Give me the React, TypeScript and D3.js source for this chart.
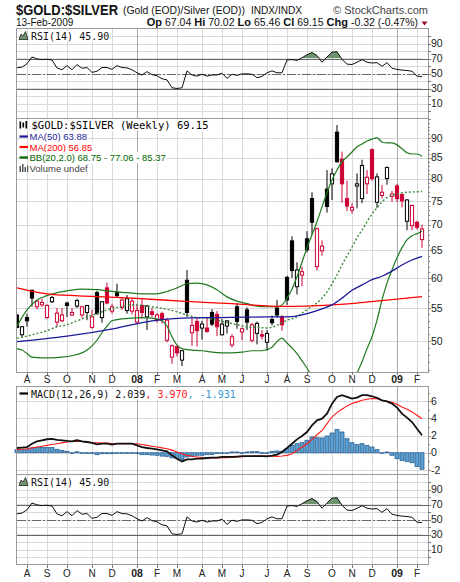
import { useLayoutEffect, useRef, useState } from 'react';
import * as d3 from 'd3';

// weekly bars, the first one is the week ending Fri 27-Jul-2007
const firstWeekEnd = new Date(Date.UTC(2007, 6, 27));
const monthLabels = ['A', 'S', 'O', 'N', 'D', '08', 'F', 'M', 'A', 'M', 'J', 'J', 'A', 'S', 'O', 'N', 'D', '09', 'F'];

const open = [
  53.9, 50.9, 53.5, 57.9, 55.2, 55.5, 53.5, 56.0, 52.8, 53.0,
  55.8, 53.9, 55.3, 53.9, 54.3, 52.0, 57.5, 53.5, 58.3, 54.5,
  57.5, 55.1, 54.6, 54.5, 52.8, 55.4, 53.6, 54.4, 53.2, 54.1,
  50.1, 47.7, 49.2, 47.3, 59.6, 51.2, 52.9, 51.9, 51.9, 54.3,
  54.0, 50.9, 52.2, 49.4, 55.2, 51.3, 54.7, 50.1, 51.1, 50.9,
  49.8, 53.2, 55.0, 53.6, 60.1, 66.8, 58.5, 60.5, 67.2, 75.5,
  62.0, 64.9, 77.6, 78.8, 91.5, 84.6, 75.5, 73.0, 78.3, 75.5,
  78.8, 87.0, 74.7, 76.2, 80.0, 76.0, 78.3, 76.4, 70.7, 69.8,
  70.5, 67.04,
];
const high = [
  54.0, 52.2, 54.1, 58.0, 56.3, 56.5, 55.6, 57.0, 55.0, 55.0,
  56.0, 55.0, 56.5, 55.3, 55.5, 54.7, 57.8, 56.1, 59.2, 55.7,
  59.0, 56.8, 57.1, 56.6, 55.7, 56.4, 55.5, 55.0, 54.2, 54.4,
  53.4, 49.5, 49.3, 48.7, 61.4, 53.5, 53.5, 53.0, 53.4, 54.8,
  54.5, 53.3, 53.1, 51.0, 55.8, 52.0, 55.1, 52.7, 52.9, 51.6,
  51.6, 53.8, 56.3, 53.9, 60.4, 67.7, 62.8, 62.0, 68.7, 76.9,
  69.4, 66.9, 82.0, 82.4, 93.4, 86.5, 79.5, 74.5, 81.2, 84.5,
  82.0, 87.3, 81.2, 78.5, 82.9, 77.2, 78.8, 76.6, 75.4, 74.2,
  70.8, 70.02,
];
const low = [
  51.9, 50.5, 52.1, 55.2, 54.8, 55.2, 53.3, 55.8, 52.1, 52.8,
  53.6, 53.7, 55.0, 53.5, 53.1, 51.8, 54.0, 52.7, 55.6, 54.1,
  56.7, 54.7, 54.1, 54.0, 52.6, 53.3, 51.6, 53.6, 52.7, 52.6,
  49.8, 46.8, 47.8, 46.5, 53.6, 49.3, 49.2, 50.2, 51.2, 52.2,
  50.7, 50.8, 51.1, 49.1, 51.8, 50.1, 51.6, 49.8, 49.5, 50.2,
  48.6, 52.3, 53.5, 51.5, 55.5, 60.0, 57.2, 58.6, 64.6, 68.0,
  61.3, 64.0, 72.5, 75.2, 83.8, 74.6, 72.8, 72.3, 73.4, 74.5,
  76.5, 79.5, 73.5, 75.5, 78.6, 74.8, 74.8, 73.6, 68.9, 68.9,
  69.0, 65.46,
];
const close = [
  52.0, 52.1, 53.0, 56.6, 56.1, 55.9, 55.4, 56.7, 54.2, 53.9,
  55.4, 54.3, 56.2, 55.2, 55.4, 53.6, 54.1, 56.0, 55.8, 55.2,
  57.0, 56.3, 56.5, 56.1, 54.6, 54.3, 55.3, 54.0, 53.9, 53.2,
  53.1, 49.3, 48.3, 48.6, 54.3, 52.3, 51.5, 52.5, 51.4, 52.5,
  52.1, 52.5, 53.0, 50.6, 52.9, 51.8, 52.8, 52.4, 52.6, 50.7,
  51.1, 52.7, 53.9, 52.4, 56.3, 61.3, 61.4, 61.1, 65.1, 70.5,
  69.2, 65.8, 73.8, 81.1, 84.0, 78.8, 73.9, 73.6, 78.8, 83.1,
  80.3, 80.0, 80.4, 76.9, 82.6, 76.5, 75.5, 75.0, 75.2, 74.0,
  69.47, 69.15,
];

// overlays, as [bar, value] pairs
const ma50: [number, number][] = [
  [0, 49.9], [10, 50.7], [20, 51.9], [27, 53.0], [33, 53.4], [40, 53.5], [50, 53.6], [55, 53.65],
  [58, 54.1], [61, 54.85], [63, 55.5], [65, 56.6], [67, 57.9], [69, 58.8], [71, 59.7], [73, 60.3],
  [75, 61.2], [77, 62.3], [79, 63.2], [81, 63.88],
];
const ma200: [number, number][] = [
  [0, 58.3], [7, 57.2], [15, 56.9], [23, 56.6], [33, 56.1], [43, 55.7], [53, 55.25], [58, 55.3],
  [63, 55.5], [68, 55.8], [73, 56.2], [81, 56.85],
];
const bbUpper: [number, number][] = [
  [0, 52.2], [2, 54.7], [4, 56.3], [6, 57.0], [8, 57.5], [10, 57.8], [13, 58.1], [16, 58.0], [19, 57.7],
  [22, 57.5], [25, 57.3], [28, 57.3], [30, 57.7], [32, 58.3], [34, 59.0], [36, 59.1], [38, 58.8], [40, 58.0],
  [42, 56.8], [44, 56.1], [46, 55.7], [48, 55.3], [50, 55.2], [52, 55.2], [53, 55.5], [54, 56.6], [55, 58.1],
  [56, 60.2], [57, 62.8], [58, 65.5], [59, 68.0], [60, 70.6], [61, 73.7], [62, 76.8], [63, 79.7], [64, 82.0],
  [65, 84.0], [66, 85.2], [67, 86.4], [68, 87.7], [69, 88.4], [70, 89.2], [71, 89.7], [72, 90.0], [73, 88.95],
  [74, 88.7], [75, 88.7], [76, 88.2], [77, 87.2], [78, 86.2], [79, 85.9], [80, 85.9], [81, 85.37],
];
const bbMiddle: [number, number][] = [
  [0, 50.4], [2, 50.7], [4, 51.1], [6, 51.5], [8, 52.1], [10, 52.4], [12, 53.0], [14, 53.6], [16, 54.1],
  [18, 54.7], [20, 55.1], [22, 55.4], [24, 55.5], [26, 55.3], [28, 55.1], [30, 54.8], [32, 54.4], [34, 53.9],
  [36, 53.5], [38, 53.4], [40, 53.1], [42, 52.75], [44, 52.4], [46, 52.1], [48, 52.0], [50, 51.9], [52, 52.3],
  [53, 52.7], [54, 53.1], [55, 53.3], [56, 53.6], [57, 54.2], [58, 54.7], [59, 55.3], [60, 55.8], [61, 56.6],
  [62, 57.6], [63, 59.0], [64, 60.5], [65, 62.3], [66, 64.0], [67, 65.6], [68, 67.4], [69, 68.9], [70, 70.6],
  [71, 72.2], [72, 73.5], [73, 74.8], [74, 75.7], [75, 76.2], [76, 76.5], [78, 76.9], [80, 77.0], [81, 77.06],
];
const bbLower: [number, number][] = [
  [0, 48.9], [1, 48.7], [2, 48.2], [3, 47.7], [5, 47.6], [7, 47.6], [9, 47.7], [11, 47.9], [13, 48.3],
  [14, 48.7], [15, 49.3], [16, 50.1], [17, 51.2], [18, 52.2], [19, 53.0], [21, 53.3], [23, 53.4], [25, 53.5],
  [27, 53.4], [29, 53.0], [30, 52.2], [31, 50.6], [32, 49.4], [33, 48.9], [35, 48.7], [37, 48.6], [39, 48.4],
  [41, 48.3], [43, 48.3], [45, 48.4], [47, 48.6], [49, 48.6], [51, 49.1], [52, 49.9], [53, 50.4], [54, 49.7],
  [55, 49.0], [56, 48.2], [57, 47.2], [58, 46.2], [59, 45.1], [60, 44.0], [61, 42.6], [62, 41.4], [63, 40.5],
  [64, 40.0], [65, 40.2], [66, 41.2], [67, 43.2], [68, 45.5], [69, 47.05], [70, 48.9], [71, 50.6], [72, 53.1],
  [73, 56.3], [74, 59.1], [75, 61.4], [76, 63.6], [77, 65.5], [78, 67.0], [79, 67.8], [80, 68.2], [81, 68.75],
];

const rsi = [
  57.6, 58.5, 63, 72, 69.5, 68.5, 69, 68, 57.5, 55,
  60.5, 55, 62, 57, 58, 51.5, 53, 58, 58, 55.5,
  60.5, 58, 57.5, 55, 51, 48, 52.5, 48.5, 47, 43,
  41.5, 31, 30, 31, 53.5, 48, 46.5, 49, 46.5, 48,
  48, 50.5, 43.5, 49, 47.5, 49.5, 49.5, 49, 44.5, 46,
  51, 53.5, 51, 51, 68, 68.5, 67.5, 71, 75, 78,
  74, 65, 72, 78.5, 79, 69, 62.5, 62, 65, 68.5,
  65, 64, 64.5, 59.5, 64.5, 57, 55.5, 54.5, 54, 53,
  46.5, 45.9,
];

const macd = [
  0.55, 0.6, 0.66, 1.05, 1.33, 1.45, 1.57, 1.62, 1.5, 1.43,
  1.37, 1.33, 1.45, 1.33, 1.25, 1.15, 0.98, 1.05, 1.05, 0.94,
  1.05, 1.05, 1.05, 1.05, 0.86, 0.66, 0.55, 0.47, 0.39, 0.27,
  0.16, -0.31, -0.7, -1.02, -0.78, -0.78, -0.7, -0.7, -0.62, -0.58,
  -0.58, -0.5, -0.5, -0.5, -0.45, -0.4, -0.4, -0.4, -0.4, -0.4,
  -0.43, -0.35, -0.23, 0.08, 0.55, 1.05, 1.56, 1.95, 2.42, 3.2,
  3.79, 3.98, 4.57, 5.74, 6.52, 6.72, 6.52, 6.33, 6.45, 6.72,
  6.72, 6.6, 6.4, 6.13, 6.0, 5.74, 5.27, 4.57, 4.1, 3.59,
  2.8, 2.039,
];
const signal = [
  0.35, 0.4, 0.47, 0.56, 0.66, 0.76, 0.86, 0.95, 1.05, 1.15,
  1.25, 1.3, 1.33, 1.3, 1.25, 1.2, 1.17, 1.14, 1.13, 1.08,
  1.05, 1.05, 1.05, 1.05, 1.05, 0.95, 0.86, 0.76, 0.66, 0.56,
  0.47, 0.3, 0.08, -0.12, -0.31, -0.42, -0.5, -0.57, -0.62, -0.62,
  -0.62, -0.6, -0.58, -0.54, -0.5, -0.47, -0.43, -0.41, -0.4, -0.4,
  -0.4, -0.4, -0.43, -0.39, -0.31, -0.12, 0.27, 0.66, 1.05, 1.56,
  2.1, 2.6, 3.4, 4.2, 4.69, 5.08, 5.47, 5.74, 5.94, 6.13,
  6.25, 6.33, 6.3, 6.13, 6.0, 5.9, 5.66, 5.35, 5.08, 4.77,
  4.38, 3.97,
];
const hist = [
  0.35, 0.35, 0.35, 0.55, 0.6, 0.6, 0.6, 0.6, 0.4, 0.27,
  0.16, 0.0, 0.1, 0.0, 0.0, -0.08, -0.23, -0.12, -0.12, -0.12,
  0.0, 0.0, 0.0, 0.0, -0.1, -0.23, -0.23, -0.27, -0.3, -0.4,
  -0.43, -0.6, -0.7, -0.78, -0.5, -0.4, -0.3, -0.3, -0.23, -0.2,
  -0.08, -0.04, 0.0, 0.08, 0.08, 0.0, 0.08, 0.12, 0.12, 0.0,
  0.0, 0.16, 0.2, 0.16, 0.47, 0.86, 1.05, 1.17, 1.45, 1.84,
  1.76, 1.72, 1.95, 2.3, 2.7, 2.42, 1.64, 1.17, 0.94, 1.05,
  0.86, 0.66, 0.35, 0.0, 0.08, -0.3, -0.7, -0.9, -1.02, -1.17,
  -1.6, -1.931,
];

const priceTicks = [50, 55, 60, 65, 70, 75, 80, 85, 90];
const rsiTicks = [10, 30, 50, 70, 90];
const macdTicks = [-2, 0, 2, 4, 6];
const quote: [string, string][] = [
  ['Op', '67.04'], ['Hi', '70.02'], ['Lo', '65.46'], ['Cl', '69.15'], ['Chg', '-0.32 (-0.47%)'],
];

const W = 460;
const H = 582;
const L = 16.5;
const R = 428;
const SANS = '"Liberation Sans", Arial, sans-serif';
const MONO = '"DejaVu Sans Mono", monospace';
const GRID = '#d9d9d9';
const YEARGRID = '#a9a9a9';
const RED = '#cc0033';

const n = close.length;
const x = d3.scaleLinear().domain([0, n - 1]).range([17, 422]);

const weekEnds = close.map((_, i) => d3.utcDay.offset(firstWeekEnd, 7 * i));
const monthOf = (d: Date) => d3.utcDay.offset(d, -4).getUTCMonth();
const monthBars = weekEnds
  .map((d, i) => (i > 0 && monthOf(d) !== monthOf(weekEnds[i - 1]) ? i : -1))
  .filter((i) => i >= 0);
const monthTicks = monthBars.map((bar, k) => ({
  bar,
  label: monthLabels[k] ?? '',
  year: /^\d/.test(monthLabels[k] ?? ''),
}));

const px = (v: number) => Math.round(v) + 0.5;

function Boxed({ x: tx, y: ty, children, ...rest }: any) {
  const ref = useRef<SVGTextElement>(null);
  const [box, setBox] = useState<{ x: number; y: number; w: number; h: number } | null>(null);
  useLayoutEffect(() => {
    if (ref.current) {
      const b = ref.current.getBBox();
      setBox({ x: b.x - 1, y: b.y, w: b.width + 2, h: b.height });
    }
  }, []);
  return (
    <g>
      {box && <rect x={box.x} y={box.y} width={box.w} height={box.h} fill="#fff" />}
      <text ref={ref} x={tx} y={ty} {...rest}>
        {children}
      </text>
    </g>
  );
}

function MonthGrid({ top, bottom }: { top: number; bottom: number }) {
  return (
    <g shapeRendering="crispEdges">
      {monthTicks.map((t) => (
        <line key={t.bar} x1={px(x(t.bar))} x2={px(x(t.bar))} y1={top} y2={bottom} stroke={t.year ? YEARGRID : GRID} />
      ))}
    </g>
  );
}

function Frame({ top, bottom }: { top: number; bottom: number }) {
  return <rect x={L} y={top} width={R - L} height={bottom - top} fill="none" stroke="#9a9a9a" shapeRendering="crispEdges" />;
}

function MonthAxis({ top, y }: { top: number; y: number }) {
  return (
    <g>
      {monthTicks.map((t) => (
        <line key={t.bar} x1={px(x(t.bar))} x2={px(x(t.bar))} y1={top} y2={top + 3} stroke="#777" shapeRendering="crispEdges" />
      ))}
      {monthTicks.map((t) => (
        <text key={'l' + t.bar} x={x(t.bar)} y={y} textAnchor="middle" fontFamily={SANS}
          fontSize={t.year ? 10.5 : 10} fontWeight={t.year ? 'bold' : 'normal'} fill="#222">
          {t.label}
        </text>
      ))}
    </g>
  );
}

function RsiPanel({ top, id }: { top: number; id: string }) {
  const bottom = top + 90;
  const y = d3.scaleLinear().domain([-10, 110]).range([bottom, top]);
  const line = d3.line<number>().x((_, i) => x(i)).y((v) => y(v));
  const area = d3.area<number>().x((_, i) => x(i)).y0(y(70)).y1((v) => y(v));
  const areaLow = d3.area<number>().x((_, i) => x(i)).y0(y(30)).y1((v) => y(v));
  const levels = d3.range(0, 101, 10);
  return (
    <g>
      <defs>
        <clipPath id={id + 'hi'}>
          <rect x={L} y={top} width={R - L} height={y(70) - top} />
        </clipPath>
        <clipPath id={id + 'lo'}>
          <rect x={L} y={y(30)} width={R - L} height={bottom - y(30)} />
        </clipPath>
      </defs>
      <g shapeRendering="crispEdges">
        {levels.map((v) => (
          <line key={v} x1={L} x2={R} y1={px(y(v))} y2={px(y(v))} stroke={GRID} />
        ))}
      </g>
      <MonthGrid top={top} bottom={bottom} />
      <g shapeRendering="crispEdges">
        <line x1={L} x2={R} y1={px(y(70))} y2={px(y(70))} stroke="#666" />
        <line x1={L} x2={R} y1={px(y(30))} y2={px(y(30))} stroke="#666" />
        <line x1={L} x2={R} y1={px(y(50))} y2={px(y(50))} stroke="#666" strokeDasharray="9,2,2,2" />
      </g>
      <path d={area(rsi) ?? ''} fill="#6f9270" clipPath={`url(#${id}hi)`} />
      <path d={areaLow(rsi) ?? ''} fill="#6f9270" clipPath={`url(#${id}lo)`} />
      <path d={line(rsi) ?? ''} fill="none" stroke="#111" strokeWidth={1} />
      <Frame top={top} bottom={bottom} />
      {levels.map((v) => (
        <line key={'t' + v} x1={R} x2={R + 3} y1={px(y(v))} y2={px(y(v))} stroke="#777" shapeRendering="crispEdges" />
      ))}
      {rsiTicks.map((v) => (
        <text key={'l' + v} x={431} y={y(v)} dy="0.36em" fontFamily={SANS} fontSize={10.5} fill="#222">
          {v}
        </text>
      ))}
      <polygon
        points={`19,${top + 11} 21,${top + 5.5} 23,${top + 7.5} 25.5,${top + 3} 28,${top + 11}`}
        fill="#6f9270" stroke="#222" strokeWidth={0.8}
      />
      <Boxed x={31} y={top + 11} fontFamily={MONO} fontSize={10} fill="#111">
        RSI(14) 45.90
      </Boxed>
    </g>
  );
}

function PricePanel() {
  const top = 118.5;
  const bottom = 372;
  const y = d3.scaleLog().domain([45.7, 95.2]).range([bottom, top]);
  const overlay = d3
    .line<[number, number]>()
    .x((d) => x(d[0]))
    .y((d) => y(d[1]))
    .curve(d3.curveMonotoneX);
  const minor = d3.range(46, 96, 1);
  return (
    <g>
      <defs>
        <clipPath id="priceClip">
          <rect x={L} y={top} width={R - L} height={bottom - top} />
        </clipPath>
      </defs>
      <g shapeRendering="crispEdges">
        {priceTicks.map((v) => (
          <line key={v} x1={L} x2={R} y1={px(y(v))} y2={px(y(v))} stroke={GRID} />
        ))}
      </g>
      <MonthGrid top={top} bottom={bottom} />
      <g clipPath="url(#priceClip)">
        {close.map((c, i) => {
          const o = open[i];
          const color = i === 0 || c >= close[i - 1] ? '#000' : RED;
          const hollow = c > o;
          const yt = y(Math.max(o, c));
          const yb = y(Math.min(o, c));
          const cx = x(i);
          return (
            <g key={i}>
              <line x1={cx} x2={cx} y1={y(high[i])} y2={y(low[i])} stroke={color} strokeWidth={1} />
              <rect x={cx - 1.6} y={yt} width={3.2} height={Math.max(yb - yt, 0.8)}
                fill={hollow ? '#fff' : color} stroke={color} strokeWidth={1} />
            </g>
          );
        })}
        <path d={overlay(bbUpper) ?? ''} fill="none" stroke="#1f7a1f" strokeWidth={1.2} />
        <path d={overlay(bbLower) ?? ''} fill="none" stroke="#1f7a1f" strokeWidth={1.2} />
        <path d={overlay(bbMiddle) ?? ''} fill="none" stroke="#3c8a3c" strokeWidth={1.4} strokeDasharray="2,2" />
        <path d={overlay(ma200) ?? ''} fill="none" stroke="#ff0000" strokeWidth={1.3} />
        <path d={overlay(ma50) ?? ''} fill="none" stroke="#1a1a99" strokeWidth={1.3} />
      </g>
      <Frame top={top} bottom={bottom} />
      {minor.map((v) => (
        <line key={'m' + v} x1={R} x2={R + (v % 5 === 0 ? 3 : 1.5)} y1={px(y(v))} y2={px(y(v))} stroke="#888" shapeRendering="crispEdges" />
      ))}
      {priceTicks.map((v) => (
        <text key={'l' + v} x={431} y={y(v)} dy="0.36em" fontFamily={SANS} fontSize={10.5} fill="#222">
          {v}
        </text>
      ))}
      {/* legend */}
      <g fill="#000">
        <rect x={19.5} y={121.5} width={1.6} height={7} />
        <rect x={22.5} y={122.5} width={1.6} height={5} />
        <rect x={25.5} y={121} width={1.6} height={7.5} />
      </g>
      <Boxed x={31.5} y={129} fontFamily={MONO} fontSize={10.5} fill="#000">
        $GOLD:$SILVER (Weekly) 69.15
      </Boxed>
      <line x1={19.5} x2={28} y1={136.5} y2={136.5} stroke="#1a1a99" strokeWidth={2.2} />
      <Boxed x={29.5} y={140} fontFamily={SANS} fontSize={9.5} fill="#1a1a99">MA(50) 63.88</Boxed>
      <line x1={19.5} x2={28} y1={147} y2={147} stroke="#ff0000" strokeWidth={2.2} />
      <Boxed x={29.5} y={150.5} fontFamily={SANS} fontSize={9.5} fill="#ff0000">MA(200) 56.85</Boxed>
      <line x1={19.5} x2={28} y1={157.5} y2={157.5} stroke="#006400" strokeWidth={2.2} />
      <Boxed x={29.5} y={161} fontFamily={SANS} fontSize={9.5} fill="#006400">BB(20,2.0) 68.75 - 77.06 - 85.37</Boxed>
      <g fill="#555">
        <rect x={19.5} y={166} width={1.5} height={6} />
        <rect x={22} y={164} width={1.5} height={8} />
        <rect x={24.5} y={167} width={1.5} height={5} />
        <rect x={27} y={165.5} width={1.5} height={6.5} />
      </g>
      <Boxed x={29.5} y={172} fontFamily={SANS} fontSize={9.5} fill="#444">Volume undef</Boxed>
    </g>
  );
}

function MacdPanel() {
  const top = 386.5;
  const bottom = 474.5;
  const y = d3.scaleLinear().domain([-2.55, 7.74]).range([bottom, top]);
  const line = d3.line<number>().x((_, i) => x(i)).y((v) => y(v));
  const minor = d3.range(-2, 8, 1);
  return (
    <g>
      <g shapeRendering="crispEdges">
        {macdTicks.map((v) => (
          <line key={v} x1={L} x2={R} y1={px(y(v))} y2={px(y(v))} stroke={GRID} />
        ))}
      </g>
      <MonthGrid top={top} bottom={bottom} />
      {hist.map((v, i) => {
        const y0 = y(0);
        const y1 = y(v);
        return (
          <rect key={i} x={x(i) - 2} y={Math.min(y0, y1)} width={4} height={Math.max(Math.abs(y1 - y0), 0.6)}
            fill="#5a9fd0" stroke="#2a5f94" strokeWidth={0.8} />
        );
      })}
      <path d={line(signal) ?? ''} fill="none" stroke="#ff1a1a" strokeWidth={1.1} />
      <path d={line(macd) ?? ''} fill="none" stroke="#111" strokeWidth={1.8} />
      <Frame top={top} bottom={bottom} />
      {minor.map((v) => (
        <line key={'m' + v} x1={R} x2={R + (v % 2 === 0 ? 3 : 1.5)} y1={px(y(v))} y2={px(y(v))} stroke="#888" shapeRendering="crispEdges" />
      ))}
      {macdTicks.map((v) => (
        <text key={'l' + v} x={431} y={y(v)} dy="0.36em" fontFamily={SANS} fontSize={10.5} fill="#222">
          {v}
        </text>
      ))}
      <line x1={19.5} x2={28} y1={393.5} y2={393.5} stroke="#000" strokeWidth={2.2} />
      <Boxed x={31} y={397.5} fontFamily={MONO} fontSize={10} fill="#111">
        MACD(12,26,9) 2.039<tspan fill="#ff1a1a">, 3.970</tspan>
        <tspan fill="#3399cc">, -1.931</tspan>
      </Boxed>
    </g>
  );
}

function Header() {
  return (
    <g fontFamily={SANS} fill="#111">
      <text x={16} y={15} fontSize={15} fontWeight="bold" textLength={102} lengthAdjust="spacingAndGlyphs">
        $GOLD:$SILVER
      </text>
      <text x={123} y={14} fontSize={11} textLength={122} lengthAdjust="spacingAndGlyphs">
        (Gold (EOD)/Silver (EOD))
      </text>
      <text x={251} y={14} fontSize={10} textLength={51} lengthAdjust="spacingAndGlyphs">INDX/INDX</text>
      <text x={428} y={14} fontSize={11} textAnchor="end" fill="#444">© StockCharts.com</text>
      <text x={16} y={26} fontSize={10}>13-Feb-2009</text>
      <text x={418} y={26} fontSize={10.5} textAnchor="end">
        {quote.map(([k, v], i) => (
          <tspan key={k}>
            <tspan fontWeight="bold" fontSize={11}>{(i > 0 ? ' ' : '') + k}</tspan>
            {' ' + v}
          </tspan>
        ))}
      </text>
      <polygon points="421.5,21.5 427.5,21.5 424.5,25.5" fill="#a0102a" />
    </g>
  );
}

export default function App() {
  return (
    <svg width={W} height={H} viewBox={`0 0 ${W} ${H}`}
      style={{ position: 'absolute', left: 0, top: 0, background: '#fff' }}>
      <rect width={W} height={H} fill="#fff" />
      <Header />
      <RsiPanel top={28.5} id="rsiTop" />
      <PricePanel />
      <MonthAxis top={372} y={383} />
      <MacdPanel />
      <RsiPanel top={474.5} id="rsiBot" />
      <MonthAxis top={564.5} y={577} />
    </svg>
  );
}
